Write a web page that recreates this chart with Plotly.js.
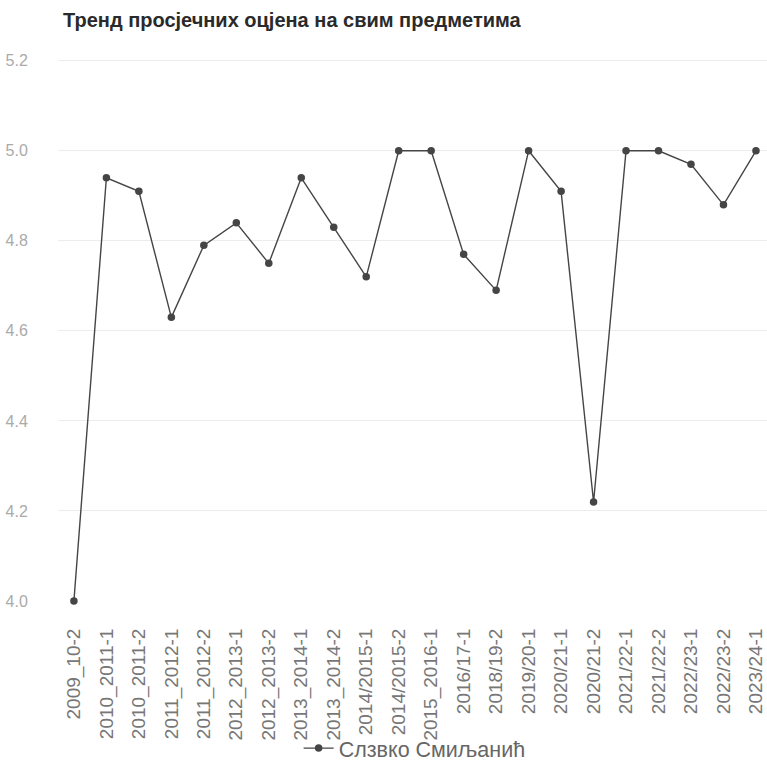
<!DOCTYPE html>
<html><head><meta charset="utf-8">
<script src="https://cdn.plot.ly/plotly-3.0.1.min.js"></script>
<style>body{margin:0;background:#fff}#c{width:767px;height:761px}</style>
</head><body><div id="c"></div>
<script>
const categories = ["2009_10-2","2010_2011-1","2010_2011-2","2011_2012-1","2011_2012-2","2012_2013-1","2012_2013-2","2013_2014-1","2013_2014-2","2014/2015-1","2014/2015-2","2015_2016-1","2016/17-1","2018/19-2","2019/20-1","2020/21-1","2020/21-2","2021/22-1","2021/22-2","2022/23-1","2022/23-2","2023/24-1"];
const averages = [4.00,4.94,4.91,4.63,4.79,4.84,4.75,4.94,4.83,4.72,5.00,5.00,4.77,4.69,5.00,4.91,4.22,5.00,5.00,4.97,4.88,5.00];
const seriesName = "Слзвко Смиљанић";
const yTicks = [4.0,4.2,4.4,4.6,4.8,5.0,5.2];
const yTickText = ["4.0","4.2","4.4","4.6","4.8","5.0","5.2"];

Plotly.newPlot("c", [{
  x: categories, y: averages, type: "scatter", mode: "lines+markers", name: seriesName,
  line: {color: "#454545", width: 1.4},
  marker: {color: "#454545", size: 7.5},
  cliponaxis: false
}], {
  width: 767, height: 761,
  margin: {l: 58, r: 0, t: 54, b: 160, autoexpand: false},
  paper_bgcolor: "#fff", plot_bgcolor: "#fff",
  font: {family: "Liberation Sans, Arial, sans-serif", color: "#888"},
  title: {text: "Тренд просјечних оцјена на свим предметима", x: 0, xref: "paper", xanchor: "left", y: 0.974, yanchor: "middle",
          pad: {l: 5}, font: {size: 20, color: "#2a2a2a", family: "Liberation Sans, Arial, sans-serif", weight: "bold"}},
  xaxis: {type: "category", range: [-0.49, 21.34], tickangle: -90, showgrid: false, zeroline: false, showline: false, automargin: false,
          ticks: "outside", ticklen: 19, tickcolor: "rgba(0,0,0,0)", tickfont: {size: 19, color: "#777"}},
  yaxis: {range: [4.0, 5.215], tickvals: yTicks, ticktext: yTickText, showgrid: true, gridcolor: "#ececec", gridwidth: 1, automargin: false,
          zeroline: false, showline: false, ticks: "outside", ticklen: 26, tickcolor: "rgba(0,0,0,0)",
          tickfont: {size: 16, color: "#aaa"}},
  showlegend: true,
  legend: {orientation: "h", x: 0.503, xanchor: "center", y: -0.269, yanchor: "middle",
           font: {size: 21.5, color: "#666"}, bgcolor: "rgba(0,0,0,0)"}
}, {displayModeBar: false, staticPlot: true});
</script></body></html>
